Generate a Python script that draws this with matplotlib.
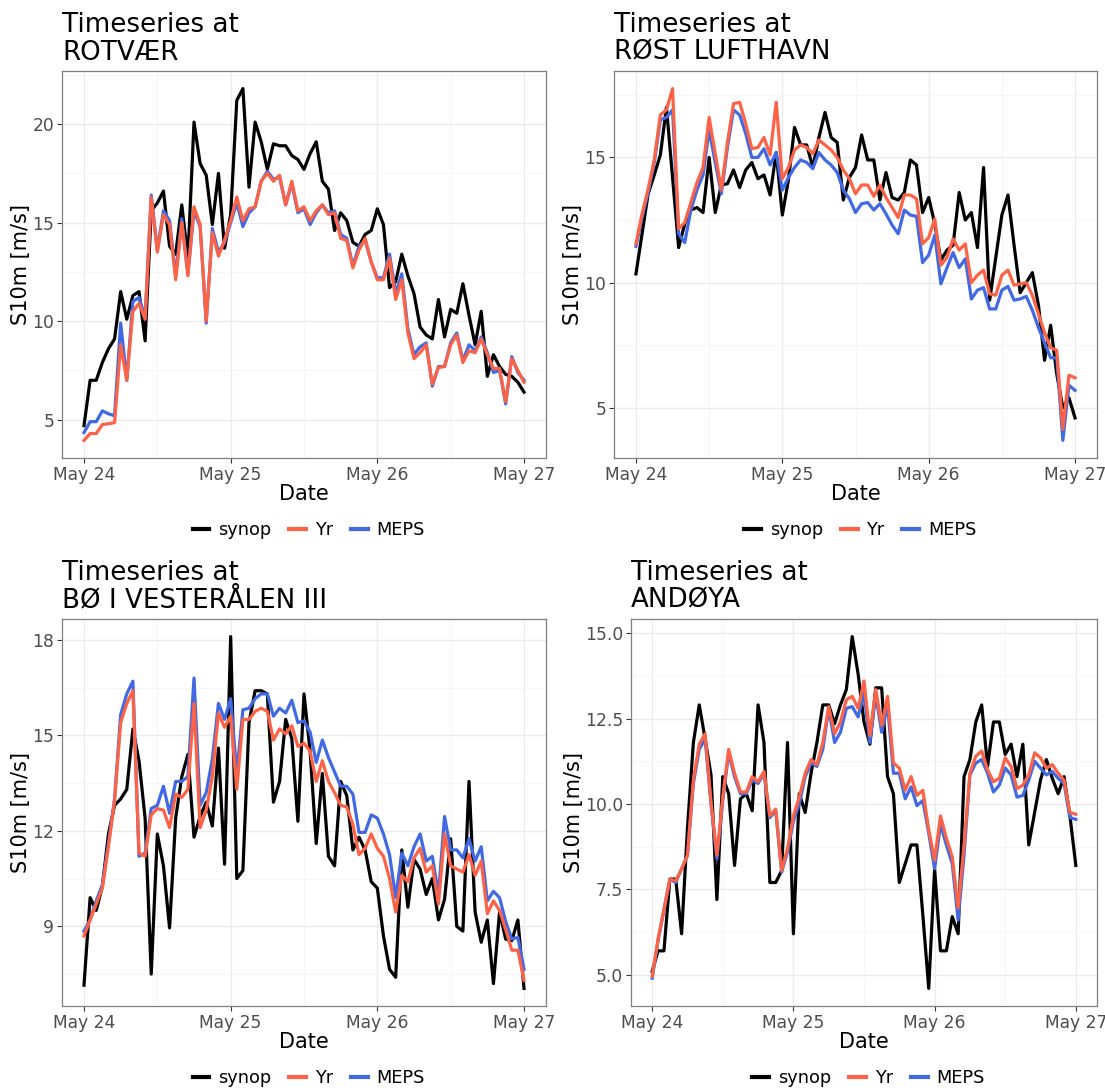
"""
Wind speed time series (synop vs Yr vs MEPS) at four stations.
"""
import pandas as pd
import matplotlib
matplotlib.use("Agg")
import matplotlib.pyplot as plt
import matplotlib.dates as mdates
from matplotlib.lines import Line2D
from matplotlib.ticker import FixedLocator, FormatStrFormatter

# hourly from May 24 00:00 to May 27 00:00
times = pd.date_range("2023-05-24 00:00", periods=73, freq="h")

rot_synop = [4.7, 7.0, 7.0, 7.9, 8.6, 9.1, 11.5, 10.1, 11.3, 11.5,
             9.0, 15.6, 16.0, 16.6, 13.8, 13.4, 15.9, 13.2, 20.1, 18.0,
             17.4, 14.9, 17.5, 13.7, 15.4, 21.2, 21.8, 16.8, 20.1, 19.1,
             17.7, 19.0, 18.9, 18.9, 18.4, 18.2, 17.7, 18.5, 19.1, 17.1,
             16.7, 14.6, 15.5, 15.1, 14.0, 13.8, 14.4, 14.6, 15.7, 14.9,
             11.7, 12.0, 13.4, 12.3, 11.4, 9.7, 9.3, 9.1, 11.1, 9.2,
             10.6, 10.4, 11.9, 10.3, 8.8, 10.5, 7.2, 8.3, 7.7, 7.3,
             7.2, 6.9, 6.4]
rot_yr = [3.95, 4.3, 4.3, 4.75, 4.8, 4.85, 8.8, 7.0, 10.5, 10.9,
          10.1, 16.3, 13.5, 15.4, 14.9, 12.1, 15.0, 12.3, 15.8, 14.9,
          10.0, 14.5, 13.3, 14.1, 15.1, 16.3, 15.1, 15.7, 15.8, 17.1,
          17.5, 17.1, 17.4, 15.9, 17.1, 15.6, 15.8, 15.1, 15.6, 15.9,
          15.4, 15.5, 14.2, 14.1, 12.7, 13.6, 14.2, 13.0, 12.1, 12.1,
          13.2, 11.1, 12.1, 9.4, 8.1, 8.4, 8.8, 6.8, 7.65, 7.7,
          8.8, 9.3, 7.9, 8.5, 8.4, 9.1, 8.3, 7.6, 7.6, 5.9,
          8.1, 7.5, 6.9]
rot_meps = [4.35, 4.9, 4.9, 5.45, 5.3, 5.2, 9.9, 7.0, 11.0, 11.2,
            10.2, 16.4, 13.6, 15.6, 15.1, 12.3, 15.2, 12.4, 15.6, 14.8,
            9.9, 14.7, 13.5, 14.0, 15.0, 16.0, 14.8, 15.5, 15.8, 17.1,
            17.6, 17.2, 17.3, 15.9, 17.0, 15.5, 15.7, 14.9, 15.5, 15.9,
            15.5, 15.6, 14.4, 14.2, 12.8, 13.8, 14.1, 13.0, 12.2, 12.2,
            13.4, 11.4, 12.4, 9.6, 8.3, 8.7, 8.9, 6.7, 7.7, 7.7,
            8.9, 9.4, 8.0, 8.8, 8.5, 9.2, 8.4, 7.4, 7.5, 5.8,
            8.2, 7.4, 7.0]

rost_synop = [10.35, 11.95, 13.55, 14.3, 15.1, 17.0, 14.2, 11.4, 12.35, 12.9,
              13.0, 12.8, 15.0, 12.8, 13.9, 13.95, 14.5, 13.8, 14.5, 14.8,
              14.15, 14.3, 13.5, 15.2, 12.7, 14.1, 16.2, 15.5, 15.5, 14.6,
              15.8, 16.8, 15.8, 15.6, 13.3, 14.2, 14.6, 15.9, 14.9, 14.9,
              13.3, 14.4, 13.4, 13.3, 13.6, 14.9, 14.7, 12.8, 13.4, 12.35,
              10.9, 11.3, 11.5, 13.6, 12.5, 12.8, 11.4, 14.6, 9.3, 11.0,
              12.7, 13.5, 11.5, 9.6, 10.0, 10.4, 9.1, 6.9, 8.3, 6.35,
              5.0, 5.4, 4.6]
rost_yr = [11.55, 12.75, 13.75, 14.9, 16.7, 16.9, 17.75, 12.15, 12.4, 13.2,
           14.0, 14.6, 16.6, 15.15, 13.7, 15.6, 17.15, 17.2, 16.35, 15.35,
           15.4, 15.8, 15.1, 17.2, 14.15, 14.6, 15.3, 15.5, 15.4, 15.15,
           15.7, 15.5, 15.3, 15.0, 14.5, 14.15, 13.55, 13.9, 13.9, 13.45,
           13.9, 13.4, 13.0, 12.6, 13.5, 13.5, 13.35, 11.55, 11.8, 12.55,
           10.7, 11.0, 11.75, 11.3, 11.55, 10.0, 10.3, 10.5, 9.55, 9.5,
           10.3, 10.5, 9.9, 9.95, 10.0, 9.5, 8.75, 8.0, 7.4, 7.3,
           4.15, 6.3, 6.2]
rost_meps = [11.45, 12.6, 13.6, 14.8, 16.5, 16.6, 16.9, 11.95, 11.6, 12.9,
             13.7, 14.3, 16.1, 14.8, 13.55, 15.4, 16.9, 16.7, 15.95, 15.0,
             15.0, 15.35, 14.7, 15.2, 13.7, 14.2, 14.6, 14.9, 14.8, 14.55,
             15.2, 14.9, 14.7, 14.4, 13.7, 13.35, 12.8, 13.15, 13.2, 12.9,
             13.15, 12.75, 12.3, 11.95, 12.9, 12.7, 12.65, 10.8, 11.1, 11.9,
             9.95, 10.6, 11.2, 10.6, 10.95, 9.35, 9.7, 9.8, 8.95, 8.95,
             9.7, 9.85, 9.3, 9.35, 9.45, 8.9, 8.2, 7.6, 7.0, 7.0,
             3.7, 5.9, 5.7]

bo_synop = [7.15, 9.9, 9.5, 10.25, 11.9, 12.8, 13.0, 13.3, 15.2, 14.2,
            12.4, 7.5, 11.9, 10.9, 8.95, 12.4, 13.7, 14.4, 11.8, 12.45,
            12.9, 12.15, 14.6, 10.95, 18.1, 10.5, 10.75, 15.4, 16.4, 16.4,
            16.3, 12.9, 13.55, 15.5, 14.9, 12.3, 16.3, 14.5, 11.6, 13.8,
            11.2, 10.9, 13.55, 13.1, 11.4, 11.8, 11.4, 10.4, 10.2, 8.7,
            7.65, 7.4, 11.4, 9.6, 11.1, 10.8, 10.0, 10.5, 9.2, 9.85,
            11.75, 9.0, 8.85, 13.55, 9.45, 8.5, 9.2, 7.2, 9.45, 8.6,
            8.55, 9.2, 7.05]
bo_yr = [8.7, 9.2, 9.7, 10.2, 11.5, 12.95, 15.4, 16.0, 16.4, 11.3,
         11.2, 12.5, 12.7, 12.65, 12.1, 13.15, 13.05, 13.3, 16.0, 12.1,
         12.65, 13.7, 15.7, 15.25, 15.6, 13.3, 15.5, 15.5, 15.75, 15.85,
         15.75, 14.85, 15.2, 15.05, 15.3, 14.65, 14.75, 14.5, 13.55, 14.2,
         13.55, 13.2, 12.8, 12.75, 12.2, 11.25, 11.45, 11.9, 11.45, 11.2,
         10.5, 9.45, 10.6, 10.4, 11.15, 11.45, 10.7, 10.9, 9.7, 11.9,
         10.9, 10.8, 10.7, 11.25, 10.6, 11.05, 9.4, 9.8, 9.5, 8.9,
         8.25, 8.25, 7.3]
bo_meps = [8.85, 9.2, 9.8, 10.3, 11.6, 13.0, 15.65, 16.3, 16.7, 11.2,
           11.3, 12.7, 12.8, 13.4, 12.55, 13.55, 13.55, 13.7, 16.8, 12.8,
           13.2, 14.25, 16.0, 15.5, 16.15, 13.8, 15.8, 15.85, 16.15, 16.3,
           16.3, 15.6, 15.85, 15.7, 16.1, 15.4, 15.45, 15.1, 14.15, 14.85,
           14.3, 13.85, 13.4, 13.4, 13.15, 11.95, 11.95, 12.5, 12.4, 11.9,
           11.25, 9.9, 11.3, 10.9, 11.5, 11.9, 11.05, 11.2, 10.0, 12.45,
           11.4, 11.4, 11.15, 11.75, 11.05, 11.5, 9.8, 10.1, 9.9, 9.15,
           8.6, 8.65, 7.65]

and_synop = [5.1, 5.7, 5.7, 7.8, 7.8, 6.2, 9.3, 11.8, 12.9, 11.9,
             10.85, 7.2, 10.8, 10.3, 8.2, 10.15, 10.3, 9.8, 12.9, 11.8,
             7.7, 7.7, 8.05, 11.8, 6.2, 10.3, 9.75, 10.9, 11.8, 12.9,
             12.9, 12.35, 12.9, 13.35, 14.9, 13.8, 12.4, 11.75, 13.4, 13.4,
             10.8, 10.3, 7.7, 8.25, 8.8, 8.8, 6.75, 4.6, 8.1, 5.7,
             5.7, 6.7, 6.2, 10.8, 11.3, 12.4, 12.9, 11.1, 12.4, 12.4,
             11.45, 11.75, 10.8, 11.75, 8.8, 9.75, 10.7, 11.3, 10.75, 10.3,
             10.8, 9.65, 8.2]
and_yr = [4.95, 6.05, 6.9, 7.8, 7.75, 8.1, 8.5, 10.7, 11.75, 12.05,
          10.05, 8.5, 10.2, 11.6, 10.9, 10.35, 10.35, 10.8, 10.65, 10.95,
          9.65, 9.85, 8.05, 8.7, 9.65, 10.2, 10.9, 11.3, 11.15, 11.8,
          12.85, 12.05, 12.4, 13.05, 13.15, 12.8, 13.6, 12.0, 13.35, 12.3,
          13.15, 11.2, 11.05, 10.4, 10.8, 10.25, 10.4, 9.25, 8.35, 9.65,
          9.0, 8.45, 6.95, 8.8, 10.9, 11.4, 11.55, 11.0, 10.65, 10.75,
          11.35, 11.1, 10.45, 10.55, 10.85, 11.5, 11.35, 11.05, 11.15, 10.9,
          10.7, 9.75, 9.7]
and_meps = [4.9, 6.0, 6.9, 7.8, 7.7, 8.1, 8.5, 10.6, 11.6, 11.9,
            10.0, 8.4, 10.1, 11.5, 10.8, 10.3, 10.3, 10.7, 10.6, 10.9,
            9.6, 9.8, 8.0, 8.6, 9.5, 10.0, 10.8, 11.2, 11.1, 11.6,
            12.8, 11.8, 12.1, 12.8, 12.85, 12.55, 13.25, 11.8, 13.2, 12.1,
            12.9, 10.9, 10.9, 10.15, 10.5, 9.95, 10.1, 9.15, 8.1, 9.4,
            8.8, 8.25, 6.6, 8.5, 10.85, 11.2, 11.3, 10.9, 10.35, 10.55,
            11.05, 10.85, 10.2, 10.25, 10.7, 11.25, 11.05, 10.85, 10.95, 10.75,
            10.6, 9.6, 9.55]

stations = ["ROTVÆR", "RØST LUFTHAVN", "BØ I VESTERÅLEN III", "ANDØYA"]
yticks = [[5, 10, 15, 20], [5, 10, 15], [6, 9, 12, 15, 18], [5.0, 7.5, 10.0, 12.5, 15.0]]
yfmt = ["%d", "%d", "%d", "%.1f"]
series = [
    (rot_synop, rot_yr, rot_meps),
    (rost_synop, rost_yr, rost_meps),
    (bo_synop, bo_yr, bo_meps),
    (and_synop, and_yr, and_meps),
]

labels = ["synop", "Yr", "MEPS"]
colors = ["black", "#FF6347", "#4169E1"]

W, H = 1105, 1090
# axes boxes in pixels: left, top, right, bottom
boxes = [(62, 71, 546, 458), (614, 71, 1097, 458),
         (62, 619, 546, 1006), (631, 619, 1097, 1006)]

plt.rcParams["font.family"] = ["DejaVu Sans"]
fig = plt.figure(figsize=(W / 100, H / 100), dpi=100)

for i, (l, t, r, b) in enumerate(boxes):
    ax = fig.add_axes([l / W, 1 - b / H, (r - l) / W, (b - t) / H])
    synop, yr, meps = series[i]
    ax.plot(times, synop, color=colors[0], lw=2.3, zorder=3)
    ax.plot(times, meps, color=colors[2], lw=2.3, zorder=4)
    ax.plot(times, yr, color=colors[1], lw=2.3, zorder=5)
    ax.margins(x=0.05, y=0.05)

    ax.xaxis.set_major_locator(mdates.DayLocator())
    ax.xaxis.set_minor_locator(mdates.HourLocator(byhour=[12]))
    ax.xaxis.set_major_formatter(mdates.DateFormatter("%b %d"))
    yt = yticks[i]
    ax.yaxis.set_major_locator(FixedLocator(yt))
    step = yt[1] - yt[0]
    ax.yaxis.set_minor_locator(FixedLocator([v + step / 2 for v in [yt[0] - step] + yt]))
    ax.yaxis.set_major_formatter(FormatStrFormatter(yfmt[i]))

    ax.grid(which="major", color="#EBEBEB", lw=1.0, zorder=0)
    ax.grid(which="minor", color="#F5F5F5", lw=0.6, zorder=0)
    ax.set_axisbelow(True)
    for s in ax.spines.values():
        s.set_color("#7F7F7F")
        s.set_linewidth(0.9)
    ax.tick_params(which="major", length=3.5, width=0.8, color="#333333",
                   labelsize=12.3, labelcolor="#4D4D4D", pad=2)
    ax.tick_params(which="minor", length=0)

    ax.set_xlabel("Date", fontsize=15, labelpad=0)
    ax.set_ylabel("S10m [m/s]", fontsize=15, labelpad=1)
    ax.set_title(f"Timeseries at\n{stations[i]}", loc="left", fontsize=18.8,
                 pad=8, linespacing=1.08)

    handles = [Line2D([], [], color=c, lw=3) for c in colors]
    ax.legend(handles, labels, loc="center", bbox_to_anchor=(0.51, -0.186),
              ncol=3, frameon=False, fontsize=12.8, handlelength=0.95,
              handletextpad=0.5, columnspacing=1.0)

fig.savefig("out.png", dpi=100)
plt.close(fig)
